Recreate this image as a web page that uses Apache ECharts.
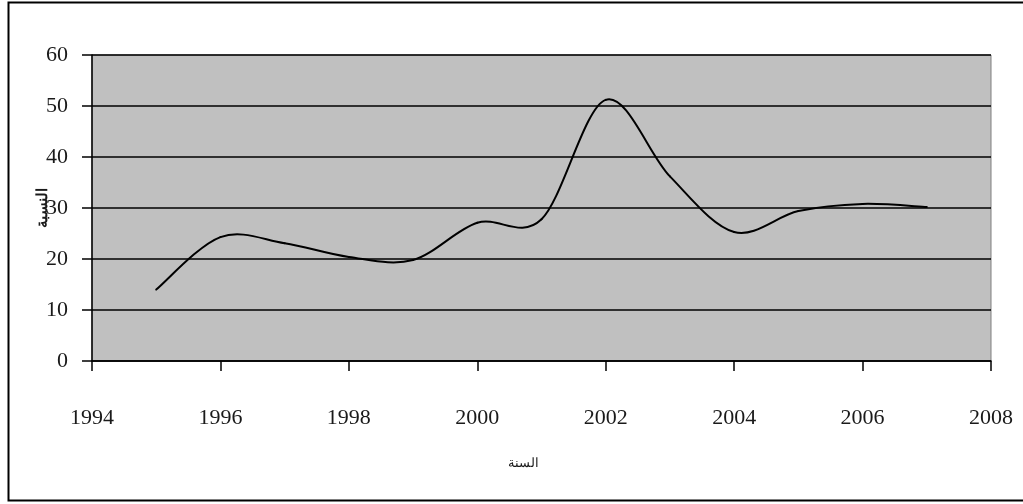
<!DOCTYPE html>
<html>
<head>
<meta charset="utf-8">
<script src="https://cdn.jsdelivr.net/npm/echarts@6/dist/echarts.min.js"></script>
<style>
  html, body { margin: 0; padding: 0; background: #fff; }
  #chart { width: 1023px; height: 504px; }
</style>
</head>
<body>
<div id="chart"></div>
<script>
// Yearly ratio series
const years = [1995, 1996, 1997, 1998, 1999, 2000, 2001, 2002, 2003, 2004, 2005, 2006, 2007];
const ratios = [14, 24.3, 23.1, 20.4, 19.8, 27.1, 27.8, 51.2, 36.2, 25.3, 29.4, 30.8, 30.2];

const xTitle = 'السنة';
const yTitle = 'النسبة';

const chart = echarts.init(document.getElementById('chart'), null, { renderer: 'canvas' });

const labelFont = { fontFamily: 'Liberation Serif', fontSize: 22, color: '#1a1a1a' };

// Smoothed line: each segment is a cubic Bezier whose control points follow
// the neighbouring points (Catmull-Rom style), all positions via api.coord.
function renderSegment(params, api) {
  const n = years.length;
  const i = params.dataIndex;
  if (i >= n - 1) return null;
  const pt = k => {
    const c = Math.max(0, Math.min(n - 1, k));
    return api.coord([years[c], ratios[c]]);
  };
  const p0 = pt(i - 1), p1 = pt(i), p2 = pt(i + 1), p3 = pt(i + 2);
  const t = 1 / 6;
  return {
    type: 'bezierCurve',
    shape: {
      x1: p1[0], y1: p1[1],
      x2: p2[0], y2: p2[1],
      cpx1: p1[0] + (p2[0] - p0[0]) * t,
      cpy1: p1[1] + (p2[1] - p0[1]) * t,
      cpx2: p2[0] - (p3[0] - p1[0]) * t,
      cpy2: p2[1] - (p3[1] - p1[1]) * t
    },
    style: { fill: null, stroke: '#000', lineWidth: 2, lineCap: 'round' },
    z2: 10
  };
}

chart.setOption({
  animation: false,
  backgroundColor: '#ffffff',
  graphic: [{
    type: 'rect',
    shape: { x: 8.5, y: 2.5, width: 1030, height: 498 },
    style: { fill: null, stroke: '#000', lineWidth: 2 },
    silent: true
  }],
  grid: {
    left: 92, right: 32, top: 55, bottom: 143,
    show: true, backgroundColor: '#c0c0c0', borderColor: '#808080', borderWidth: 1
  },
  xAxis: {
    type: 'value',
    min: 1994, max: 2008, interval: 2,
    name: xTitle,
    nameLocation: 'middle',
    nameGap: 96,
    nameTextStyle: { fontFamily: 'Noto Sans', fontSize: 13, color: '#1a1a1a', padding: [0, 36, 0, 0] },
    axisLine: { show: true, onZero: false, lineStyle: { color: '#000', width: 1.5 } },
    axisTick: { show: true, inside: false, length: 10, lineStyle: { color: '#000', width: 1.5 } },
    axisLabel: Object.assign({ margin: 46, formatter: v => String(v) }, labelFont),
    splitLine: { show: false }
  },
  yAxis: {
    type: 'value',
    min: 0, max: 60, interval: 10,
    name: yTitle,
    nameLocation: 'middle',
    nameGap: 42,
    nameMoveOverlap: false,
    nameRotate: 90,
    nameTextStyle: { fontFamily: 'Noto Sans', fontSize: 15, fontWeight: 'bold', color: '#1a1a1a' },
    axisLine: { show: true, lineStyle: { color: '#000', width: 1.5 } },
    axisTick: { show: true, inside: false, length: 10, lineStyle: { color: '#000', width: 1.5 } },
    axisLabel: Object.assign({ margin: 24 }, labelFont),
    splitLine: { show: true, lineStyle: { color: '#000', width: 1.5 } }
  },
  series: [{
    type: 'custom',
    coordinateSystem: 'cartesian2d',
    data: years.map((y, i) => [y, ratios[i]]),
    encode: { x: 0, y: 1 },
    renderItem: renderSegment,
    clip: true,
    z: 5
  }]
});
</script>
</body>
</html>
